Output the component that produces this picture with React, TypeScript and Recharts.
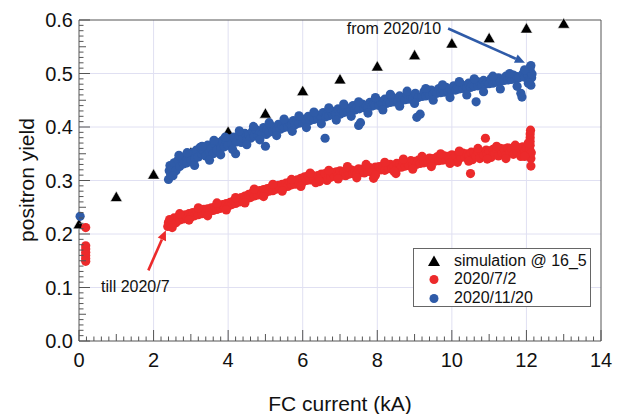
import React from 'react';
import { ScatterChart, Scatter, XAxis, YAxis, ReferenceLine } from 'recharts';

const FONT = '"Liberation Sans", Arial, Helvetica, sans-serif';
const RED = '#ec2a2b';
const BLUE = '#2f5ba8';
const AXIS = '#555';
const GRID = '#e0e0f2';

// simulation @ 16_5
const simCurrent = [0, 1, 2, 3, 4, 5, 6, 7, 8, 9, 10, 11, 12, 13];
const simYield = [0.218, 0.269, 0.311, 0.352, 0.391, 0.425, 0.467, 0.489, 0.513, 0.534, 0.556, 0.566, 0.584, 0.593];

// 2020/7/2  [FC current kA, yield]
const run0702: [number, number][] = [
  [0.18, 0.212], [0.18, 0.178], [0.18, 0.172], [0.18, 0.166], [0.18, 0.16], [0.18, 0.154], [0.18, 0.149],
  [2.38, 0.214], [2.4, 0.222], [2.43, 0.227], [2.46, 0.216], [2.5, 0.225], [2.55, 0.23], [2.6, 0.221],
  [2.65, 0.231], [2.7, 0.226], [2.75, 0.234], [2.8, 0.228], [2.85, 0.236], [2.9, 0.231], [2.95, 0.238],
  [3.0, 0.232], [3.05, 0.24], [3.1, 0.234], [3.15, 0.241], [3.2, 0.236], [3.25, 0.244], [3.3, 0.238],
  [3.35, 0.246], [3.4, 0.24], [3.45, 0.247], [3.5, 0.242], [3.55, 0.249], [3.6, 0.244], [3.65, 0.251],
  [3.7, 0.246], [3.75, 0.253], [3.8, 0.248], [3.85, 0.255], [3.9, 0.25], [3.95, 0.257], [4.0, 0.252],
  [4.05, 0.259], [4.1, 0.255], [4.15, 0.262], [4.2, 0.257], [4.25, 0.265], [4.3, 0.26], [4.35, 0.268],
  [4.4, 0.262], [4.45, 0.271], [4.5, 0.266], [4.55, 0.274], [4.6, 0.268], [4.65, 0.277], [4.7, 0.271],
  [4.75, 0.279], [4.8, 0.273], [4.85, 0.281], [4.9, 0.276], [4.95, 0.283], [5.0, 0.277], [5.05, 0.285],
  [5.1, 0.28], [5.15, 0.287], [5.2, 0.281], [5.25, 0.289], [5.3, 0.284], [5.35, 0.291], [5.4, 0.285],
  [5.45, 0.293], [5.5, 0.288], [5.55, 0.295], [5.6, 0.289], [5.65, 0.297], [5.7, 0.292], [5.75, 0.299],
  [5.8, 0.293], [5.85, 0.301], [5.9, 0.296], [5.95, 0.304], [6.0, 0.297], [6.05, 0.307], [6.1, 0.3],
  [6.15, 0.309], [6.2, 0.301], [6.25, 0.31], [6.3, 0.303], [6.35, 0.296], [6.4, 0.309], [6.45, 0.304],
  [6.5, 0.312], [6.55, 0.305], [6.6, 0.313], [6.65, 0.3], [6.7, 0.311], [6.75, 0.306], [6.8, 0.315],
  [6.85, 0.308], [6.9, 0.316], [6.95, 0.309], [7.0, 0.318], [7.05, 0.31], [7.1, 0.316], [7.15, 0.309],
  [7.2, 0.319], [7.25, 0.312], [7.3, 0.32], [7.35, 0.313], [7.4, 0.318], [7.45, 0.311], [7.5, 0.322],
  [7.55, 0.315], [7.6, 0.321], [7.65, 0.314], [7.7, 0.323], [7.75, 0.317], [7.8, 0.324], [7.85, 0.316],
  [7.9, 0.304], [7.95, 0.325], [8.0, 0.318], [8.05, 0.326], [8.1, 0.32], [8.15, 0.327], [8.2, 0.319],
  [8.25, 0.329], [8.3, 0.322], [8.35, 0.33], [8.4, 0.323], [8.45, 0.328], [8.5, 0.313], [8.52, 0.332],
  [8.55, 0.324], [8.6, 0.331], [8.65, 0.325], [8.7, 0.334], [8.75, 0.327], [8.8, 0.333], [8.85, 0.328],
  [8.9, 0.337], [8.95, 0.329], [9.0, 0.336], [9.05, 0.33], [9.1, 0.338], [9.15, 0.332], [9.2, 0.34],
  [9.25, 0.333], [9.3, 0.339], [9.35, 0.334], [9.4, 0.342], [9.45, 0.335], [9.5, 0.341], [9.55, 0.336],
  [9.6, 0.344], [9.65, 0.337], [9.7, 0.343], [9.75, 0.338], [9.8, 0.346], [9.85, 0.339], [9.9, 0.345],
  [9.95, 0.34], [10.0, 0.348], [10.05, 0.341], [10.1, 0.347], [10.15, 0.334], [10.2, 0.349], [10.25, 0.343],
  [10.3, 0.351], [10.35, 0.344], [10.4, 0.35], [10.45, 0.345], [10.5, 0.313], [10.52, 0.353], [10.55, 0.339],
  [10.6, 0.352], [10.65, 0.346], [10.7, 0.355], [10.75, 0.341], [10.8, 0.353], [10.85, 0.348], [10.9, 0.379],
  [10.92, 0.357], [10.95, 0.349], [11.0, 0.355], [11.05, 0.343], [11.1, 0.358], [11.15, 0.35], [11.2, 0.357],
  [11.25, 0.346], [11.3, 0.36], [11.35, 0.352], [11.4, 0.359], [11.45, 0.347], [11.5, 0.361], [11.55, 0.353],
  [11.6, 0.36], [11.65, 0.349], [11.7, 0.362], [11.75, 0.354], [11.8, 0.361], [11.85, 0.345], [11.9, 0.363],
  [11.95, 0.356], [12.0, 0.36], [12.05, 0.35], [12.1, 0.366], [12.1, 0.373], [12.1, 0.38], [12.1, 0.387],
  [12.11, 0.394], [12.12, 0.341], [12.12, 0.327], [12.09, 0.358], [12.13, 0.352],
  // scattered edge points of the band
  [2.5, 0.212], [2.7, 0.238], [2.95, 0.226], [3.2, 0.249], [3.45, 0.234], [3.7, 0.258], [3.95, 0.245],
  [4.2, 0.268], [4.45, 0.258], [4.7, 0.284], [4.95, 0.27], [5.2, 0.293], [5.45, 0.28], [5.7, 0.302],
  [5.95, 0.289], [6.2, 0.314], [6.45, 0.298], [6.7, 0.319], [6.95, 0.303], [7.2, 0.326], [7.45, 0.305],
  [7.7, 0.33], [7.95, 0.31], [8.2, 0.334], [8.45, 0.317], [8.7, 0.34], [8.95, 0.321], [9.2, 0.345],
  [9.45, 0.326], [9.7, 0.35], [9.95, 0.332], [10.2, 0.355], [10.45, 0.336], [10.7, 0.36], [10.95, 0.34],
  [11.2, 0.364], [11.45, 0.341], [11.7, 0.366], [11.95, 0.345], [12.05, 0.37],
];

// 2020/11/20  [FC current kA, yield]
const run1120: [number, number][] = [
  [0.03, 0.233],
  [2.4, 0.302], [2.42, 0.318], [2.44, 0.328], [2.46, 0.311], [2.5, 0.322], [2.55, 0.333], [2.6, 0.318],
  [2.65, 0.338], [2.7, 0.326], [2.75, 0.342], [2.8, 0.331], [2.85, 0.345], [2.9, 0.333], [2.95, 0.349],
  [3.0, 0.338], [3.05, 0.352], [3.1, 0.34], [3.15, 0.357], [3.2, 0.344], [3.25, 0.362], [3.3, 0.349],
  [3.35, 0.355], [3.4, 0.346], [3.45, 0.366], [3.5, 0.352], [3.55, 0.36], [3.6, 0.35], [3.65, 0.368],
  [3.7, 0.357], [3.75, 0.371], [3.8, 0.36], [3.85, 0.375], [3.9, 0.363], [3.95, 0.372], [4.0, 0.366],
  [4.05, 0.378], [4.1, 0.368], [4.15, 0.381], [4.2, 0.35], [4.22, 0.372], [4.3, 0.384], [4.35, 0.371],
  [4.4, 0.38], [4.45, 0.388], [4.5, 0.376], [4.55, 0.386], [4.6, 0.379], [4.65, 0.392], [4.7, 0.383],
  [4.75, 0.395], [4.8, 0.384], [4.85, 0.391], [4.9, 0.387], [4.95, 0.399], [5.0, 0.364], [5.02, 0.386],
  [5.05, 0.396], [5.1, 0.39], [5.15, 0.402], [5.2, 0.392], [5.25, 0.398], [5.3, 0.394], [5.35, 0.405],
  [5.4, 0.396], [5.45, 0.402], [5.5, 0.399], [5.55, 0.409], [5.6, 0.4], [5.65, 0.407], [5.7, 0.403],
  [5.75, 0.412], [5.8, 0.404], [5.85, 0.411], [5.9, 0.407], [5.95, 0.416], [6.0, 0.408], [6.05, 0.414],
  [6.1, 0.411], [6.15, 0.42], [6.2, 0.412], [6.25, 0.418], [6.3, 0.414], [6.35, 0.424], [6.4, 0.416],
  [6.45, 0.421], [6.5, 0.418], [6.55, 0.427], [6.6, 0.379], [6.62, 0.419], [6.65, 0.425], [6.7, 0.421],
  [6.75, 0.431], [6.8, 0.423], [6.85, 0.428], [6.9, 0.425], [6.95, 0.434], [7.0, 0.424], [7.05, 0.431],
  [7.1, 0.427], [7.15, 0.437], [7.2, 0.429], [7.25, 0.435], [7.3, 0.431], [7.35, 0.44], [7.4, 0.432],
  [7.45, 0.437], [7.5, 0.403], [7.55, 0.408], [7.52, 0.434], [7.6, 0.443], [7.65, 0.436], [7.7, 0.44],
  [7.75, 0.437], [7.8, 0.446], [7.85, 0.439], [7.9, 0.443], [7.95, 0.441], [8.0, 0.45], [8.05, 0.44],
  [8.1, 0.446], [8.15, 0.443], [8.2, 0.452], [8.25, 0.444], [8.3, 0.449], [8.35, 0.446], [8.4, 0.456],
  [8.45, 0.447], [8.5, 0.452], [8.55, 0.449], [8.6, 0.458], [8.65, 0.449], [8.7, 0.455], [8.75, 0.451],
  [8.8, 0.461], [8.85, 0.452], [8.9, 0.457], [8.95, 0.454], [9.06, 0.418], [9.15, 0.424], [9.02, 0.463],
  [9.1, 0.455], [9.2, 0.457], [9.25, 0.466], [9.3, 0.458], [9.35, 0.463], [9.4, 0.46], [9.45, 0.469],
  [9.5, 0.461], [9.55, 0.466], [9.6, 0.463], [9.65, 0.472], [9.7, 0.464], [9.75, 0.469], [9.8, 0.465],
  [9.85, 0.474], [9.9, 0.467], [9.95, 0.471], [10.0, 0.468], [10.05, 0.477], [10.1, 0.469], [10.15, 0.474],
  [10.2, 0.471], [10.25, 0.48], [10.3, 0.472], [10.35, 0.477], [10.4, 0.473], [10.45, 0.482], [10.5, 0.474],
  [10.55, 0.479], [10.6, 0.476], [10.65, 0.447], [10.68, 0.485], [10.7, 0.477], [10.75, 0.482], [10.8, 0.478],
  [10.85, 0.487], [10.9, 0.48], [10.95, 0.484], [11.0, 0.481], [11.05, 0.49], [11.1, 0.482], [11.15, 0.486],
  [11.2, 0.484], [11.25, 0.492], [11.3, 0.485], [11.35, 0.489], [11.4, 0.487], [11.45, 0.495], [11.5, 0.488],
  [11.55, 0.492], [11.6, 0.489], [11.65, 0.497], [11.7, 0.49], [11.75, 0.494], [11.8, 0.492], [11.85, 0.463],
  [11.88, 0.456], [11.9, 0.499], [11.95, 0.493], [12.0, 0.501], [12.05, 0.496], [12.08, 0.487], [12.1, 0.505],
  [12.12, 0.478], [12.14, 0.492], [12.15, 0.499], [12.1, 0.511], [12.05, 0.482],
  // scattered edge points of the band
  [2.52, 0.309], [2.68, 0.347], [2.9, 0.352], [3.1, 0.328], [3.3, 0.364], [3.5, 0.338], [3.62, 0.375],
  [3.8, 0.348], [3.92, 0.381], [4.12, 0.358], [4.3, 0.393], [4.5, 0.367], [4.68, 0.401], [4.85, 0.376],
  [5.1, 0.408], [5.3, 0.384], [5.5, 0.415], [5.72, 0.392], [5.9, 0.421], [6.1, 0.399], [6.3, 0.428],
  [6.5, 0.406], [6.7, 0.436], [6.9, 0.413], [7.1, 0.443], [7.3, 0.42], [7.5, 0.447], [7.75, 0.426],
  [7.95, 0.455], [8.15, 0.432], [8.35, 0.461], [8.6, 0.439], [8.8, 0.467], [9.0, 0.444], [9.3, 0.472],
  [9.5, 0.45], [9.75, 0.479], [9.95, 0.455], [10.2, 0.485], [10.4, 0.46], [10.6, 0.49], [10.85, 0.466],
  [11.1, 0.495], [11.3, 0.471], [11.55, 0.5], [11.75, 0.476], [11.95, 0.507], [12.12, 0.515],
];

const xMajor = [0, 2, 4, 6, 8, 10, 12, 14];
const yMajor = [0, 0.1, 0.2, 0.3, 0.4, 0.5, 0.6];
// minor ticks every 0.2 kA and every 0.01 in yield
const xTicks = Array.from({ length: 71 }, (_, i) => i / 5);
const yTicks = Array.from({ length: 61 }, (_, i) => i / 100);

const simData = simCurrent.map((x, i) => ({ x, y: simYield[i] }));
const redData = run0702.map(([x, y]) => ({ x, y }));
const blueData = run1120.map(([x, y]) => ({ x, y }));

const near = (v: number, step: number) => Math.abs(v / step - Math.round(v / step)) < 1e-6;
const xLen = (v: number) => (near(v, 2) ? 11 : near(v, 1) ? 7 : 4.5);
const yLen = (v: number) => (near(v, 0.1) ? 11 : near(v, 0.05) ? 7 : 4.5);

const BottomTick = ({ x, y, payload }: any) => {
  const v = payload.value;
  return (
    <g>
      <line x1={x} x2={x} y1={y} y2={y - xLen(v)} stroke={AXIS} />
      {near(v, 2) && (
        <text x={x} y={y + 26} textAnchor="middle" fontSize={20} fontFamily={FONT} fill="#111">
          {Math.round(v)}
        </text>
      )}
    </g>
  );
};

const TopTick = ({ x, y, payload }: any) => (
  <line x1={x} x2={x} y1={y} y2={y + xLen(payload.value)} stroke={AXIS} />
);

const LeftTick = ({ x, y, payload }: any) => {
  const v = payload.value;
  return (
    <g>
      <line x1={x} x2={x + yLen(v)} y1={y} y2={y} stroke={AXIS} />
      {near(v, 0.1) && (
        <text x={x - 6} y={y + 7} textAnchor="end" fontSize={20} fontFamily={FONT} fill="#111">
          {v.toFixed(1)}
        </text>
      )}
    </g>
  );
};

const RightTick = ({ x, y, payload }: any) => (
  <line x1={x} x2={x - yLen(payload.value)} y1={y} y2={y} stroke={AXIS} />
);

const arrow = (color: string, label: string, anchor: 'start' | 'end' | 'middle', dx: number, dy: number) =>
  (p: any) => {
    const { x1, y1, x2, y2 } = p;
    const a = Math.atan2(y2 - y1, x2 - x1);
    const L = 10;
    const W = 4.5;
    const bx = x2 - L * Math.cos(a);
    const by = y2 - L * Math.sin(a);
    const nx = -Math.sin(a) * W;
    const ny = Math.cos(a) * W;
    return (
      <g>
        <line x1={x1} y1={y1} x2={bx} y2={by} stroke={color} strokeWidth={2.6} />
        <polygon points={`${x2},${y2} ${bx + nx},${by + ny} ${bx - nx},${by - ny}`} fill={color} />
        <text x={x1 + dx} y={y1 + dy} textAnchor={anchor} fontSize={16} fontFamily={FONT} fill="#111">
          {label}
        </text>
      </g>
    );
  };

const Triangle = ({ cx, cy }: any) => (
  <polygon points={`${cx},${cy - 6} ${cx - 6},${cy + 4.5} ${cx + 6},${cy + 4.5}`} fill="#000" stroke="#fff" strokeWidth={0.6} />
);
const dot = (color: string) => ({ cx, cy }: any) => <circle cx={cx} cy={cy} r={4.6} fill={color} />;

const legendItems = [
  { name: 'simulation @ 16_5', kind: 'tri', color: '#000' },
  { name: '2020/7/2', kind: 'dot', color: RED },
  { name: '2020/11/20', kind: 'dot', color: BLUE },
];

export default function App() {
  return (
    <div style={{ position: 'absolute', left: 0, top: 0, width: 625, height: 414, background: '#fff', fontFamily: FONT }}>
      <ScatterChart width={625} height={414} margin={{ top: 19, right: 23, bottom: 72, left: 78 }}>
        <XAxis xAxisId="b" dataKey="x" type="number" domain={[0, 14]} ticks={xTicks} interval={0}
          height={1} tickSize={0} tickMargin={0} tickLine={false} axisLine={{ stroke: AXIS }} tick={<BottomTick />} />
        <XAxis xAxisId="t" orientation="top" dataKey="x" type="number" domain={[0, 14]} ticks={xTicks} interval={0}
          height={1} tickSize={0} tickMargin={0} tickLine={false} axisLine={{ stroke: AXIS }} tick={<TopTick />} />
        <YAxis yAxisId="l" dataKey="y" type="number" domain={[0, 0.6]} ticks={yTicks} interval={0}
          width={1} tickSize={0} tickMargin={0} tickLine={false} axisLine={{ stroke: AXIS }} tick={<LeftTick />} />
        <YAxis yAxisId="r" orientation="right" dataKey="y" type="number" domain={[0, 0.6]} ticks={yTicks} interval={0}
          width={1} tickSize={0} tickMargin={0} tickLine={false} axisLine={{ stroke: AXIS }} tick={<RightTick />} />

        {xMajor.slice(1, -1).map((v) => (
          <ReferenceLine key={'gx' + v} xAxisId="b" yAxisId="l" x={v} stroke={GRID} />
        ))}
        {yMajor.slice(1, -1).map((v) => (
          <ReferenceLine key={'gy' + v} xAxisId="b" yAxisId="l" y={v} stroke={GRID} />
        ))}

        <Scatter xAxisId="b" yAxisId="l" name="simulation @ 16_5" data={simData} shape={<Triangle />} isAnimationActive={false} />
        <Scatter xAxisId="b" yAxisId="l" name="2020/7/2" data={redData} shape={dot(RED)} isAnimationActive={false} />
        <Scatter xAxisId="b" yAxisId="l" name="2020/11/20" data={blueData} shape={dot(BLUE)} isAnimationActive={false} />

        <ReferenceLine xAxisId="b" yAxisId="l" segment={[{ x: 1.86, y: 0.132 }, { x: 2.33, y: 0.207 }]}
          shape={arrow(RED, 'till 2020/7', 'middle', -13, 22)} />
        <ReferenceLine xAxisId="b" yAxisId="l" segment={[{ x: 9.9, y: 0.584 }, { x: 11.96, y: 0.52 }]}
          shape={arrow(BLUE, 'from 2020/10', 'end', -7, 5)} />
      </ScatterChart>

      <div style={{ position: 'absolute', left: 0, top: 392, width: 680, textAlign: 'center', fontSize: 21, color: '#111' }}>
        FC current (kA)
      </div>
      <div style={{ position: 'absolute', left: 27, top: 180, width: 0, height: 0 }}>
        <div style={{ position: 'absolute', left: -80, top: -12, width: 160, textAlign: 'center', fontSize: 21, color: '#111', transform: 'rotate(-90deg)', transformOrigin: '80px 12px', lineHeight: '24px' }}>
          positron yield
        </div>
      </div>

      <div style={{ position: 'absolute', left: 413, top: 248, width: 176, height: 57, border: '1px solid #666', background: '#fff' }}>
        {legendItems.map((it, i) => (
          <div key={it.name} style={{ position: 'absolute', left: 0, top: 3 + i * 18.3, height: 18, width: 176, display: 'flex', alignItems: 'center' }}>
            <svg width={40} height={18} style={{ flex: 'none' }}>
              {it.kind === 'tri'
                ? <polygon points="20,3.5 14,14 26,14" fill="#000" />
                : <circle cx={20} cy={9.5} r={4.5} fill={it.color} />}
            </svg>
            <span style={{ fontSize: 16, color: '#111', whiteSpace: 'nowrap' }}>{it.name}</span>
          </div>
        ))}
      </div>
    </div>
  );
}
